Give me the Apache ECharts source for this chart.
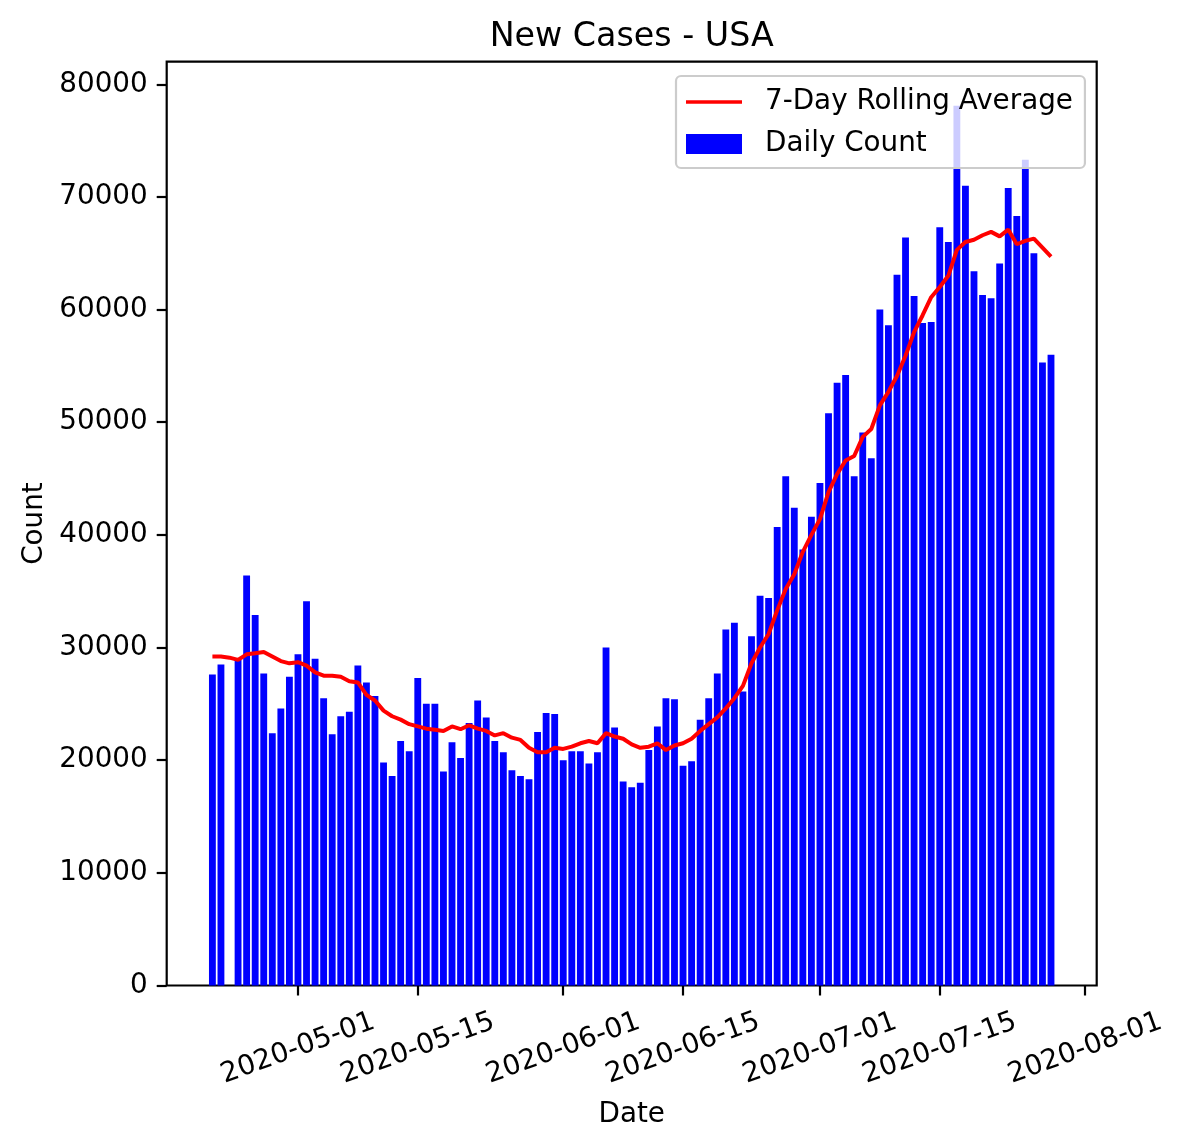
<!DOCTYPE html>
<html><head><meta charset="utf-8">
<script src="https://cdn.jsdelivr.net/npm/echarts@6/dist/echarts.min.js"></script>
<style>html,body{margin:0;padding:0;background:#fff}#c{width:1186px;height:1146px}</style>
</head><body><div id="c"></div>
<script>
const dates = [
'2020-04-21','2020-04-22','2020-04-23','2020-04-24','2020-04-25','2020-04-26','2020-04-27','2020-04-28','2020-04-29','2020-04-30',
'2020-05-01','2020-05-02','2020-05-03','2020-05-04','2020-05-05','2020-05-06','2020-05-07','2020-05-08','2020-05-09','2020-05-10',
'2020-05-11','2020-05-12','2020-05-13','2020-05-14','2020-05-15','2020-05-16','2020-05-17','2020-05-18','2020-05-19','2020-05-20',
'2020-05-21','2020-05-22','2020-05-23','2020-05-24','2020-05-25','2020-05-26','2020-05-27','2020-05-28','2020-05-29','2020-05-30','2020-05-31',
'2020-06-01','2020-06-02','2020-06-03','2020-06-04','2020-06-05','2020-06-06','2020-06-07','2020-06-08','2020-06-09','2020-06-10',
'2020-06-11','2020-06-12','2020-06-13','2020-06-14','2020-06-15','2020-06-16','2020-06-17','2020-06-18','2020-06-19','2020-06-20',
'2020-06-21','2020-06-22','2020-06-23','2020-06-24','2020-06-25','2020-06-26','2020-06-27','2020-06-28','2020-06-29','2020-06-30',
'2020-07-01','2020-07-02','2020-07-03','2020-07-04','2020-07-05','2020-07-06','2020-07-07','2020-07-08','2020-07-09','2020-07-10',
'2020-07-11','2020-07-12','2020-07-13','2020-07-14','2020-07-15','2020-07-16','2020-07-17','2020-07-18','2020-07-19','2020-07-20',
'2020-07-21','2020-07-22','2020-07-23','2020-07-24','2020-07-25','2020-07-26','2020-07-27','2020-07-28'
];
const dailyCount = [
27600,28500,null,28900,36400,32900,27700,22400,24600,27400,
29400,34100,29000,25500,22300,23900,24300,28400,26900,25700,
19800,18600,21700,20800,27300,25000,25000,19000,21600,20200,
23300,25300,23800,21700,20700,19100,18600,18300,22500,24200,24100,
20000,20800,20800,19700,20700,30000,22900,18100,17600,18000,
20900,23000,25500,25400,19500,19900,23600,25500,27700,31600,
32200,26100,31000,34600,34400,40700,45200,42400,38700,41600,
44600,50800,53500,54200,45200,49100,46800,60000,58600,63100,
66400,61200,58800,58900,67300,66000,78100,71000,63400,61300,
61000,64100,70800,68300,73300,65000,55300,56000
];
const rollingAvg = [
29200,29200,29100,28900,29400,29500,29600,29200,28800,28600,
28700,28400,27800,27500,27500,27400,27000,26900,25800,25300,
24400,23900,23600,23200,23000,22800,22700,22600,23000,22750,
23100,22800,22600,22200,22400,22000,21800,21100,20700,20700,21100,
21000,21200,21500,21700,21500,22400,22100,21900,21400,21100,
21200,21500,20900,21300,21500,21900,22600,23200,23800,24600,
25500,26600,28600,30000,31200,33300,35200,36500,38500,40000,
41400,43800,45400,46600,47000,48700,49400,51500,52700,54100,
55900,58000,59500,61100,62000,63000,65300,66000,66200,66600,
66900,66500,67100,65800,66100,66300,65500,64700
];
const xTickLabels = ['2020-05-01','2020-05-15','2020-06-01','2020-06-15','2020-07-01','2020-07-15','2020-08-01'];
const yTicks = [0,10000,20000,30000,40000,50000,60000,70000,80000];

const FONT = 'DejaVu Sans';
const DAY = 86400000;
const toTs = s => Date.parse(s + 'T00:00:00Z');
const first = toTs(dates[0]), last = toTs(dates[dates.length - 1]);
const span = (last - first) + 0.8 * DAY;
const xMin = first - 0.4 * DAY - 0.05 * span;
const xMax = last + 0.4 * DAY + 0.05 * span;
const yMax = Math.max(...dailyCount.filter(v => v != null)) * 1.05;

const gridLeft = 166.7, gridRight = 89.3, gridTop = 61.7, gridBottom = 160.5;
const plotW = 1186 - gridLeft - gridRight;
const barPx = 0.8 * DAY * plotW / (xMax - xMin);

function fmt(v) {
  const d = new Date(v);
  return d.getUTCFullYear() + '-' + String(d.getUTCMonth() + 1).padStart(2, '0') + '-' + String(d.getUTCDate()).padStart(2, '0');
}

const chart = echarts.init(document.getElementById('c'), null, {renderer: 'canvas'});
chart.setOption({
  animation: false,
  backgroundColor: '#ffffff',
  textStyle: {fontFamily: FONT},
  title: {
    text: 'New Cases - USA',
    left: gridLeft + plotW / 2 - 5,
    textAlign: 'center',
    top: 16,
    textStyle: {fontFamily: FONT, fontSize: 33.3, fontWeight: 'normal', color: '#000'}
  },
  legend: {
    orient: 'vertical',
    left: 676,
    top: 76,
    align: 'left',
    selectedMode: false,
    itemWidth: 56,
    itemHeight: 20,
    itemGap: 14,
    padding: [12, 12, 10, 10],
    backgroundColor: 'rgba(255,255,255,0.8)',
    borderColor: '#cccccc',
    borderWidth: 2.2,
    borderRadius: 5,
    textStyle: {fontFamily: FONT, fontSize: 27.8, color: '#000', lineHeight: 28, padding: [0, 0, 0, 18]},
    data: [
      {name: '7-Day Rolling Average', icon: 'path://M0,0 L60,0 L60,4 L0,4 Z', itemStyle: {color: '#ff0000'}},
      {name: 'Daily Count', icon: 'rect', itemStyle: {color: '#0000ff'}}
    ]
  },
  grid: {
    left: gridLeft, right: gridRight, top: gridTop, bottom: gridBottom,
    show: true, borderColor: '#000', borderWidth: 2.2, backgroundColor: 'transparent',
    containLabel: false, outerBoundsMode: 'none'
  },
  xAxis: {
    type: 'value',
    min: xMin, max: xMax,
    axisLine: {show: false},
    splitLine: {show: false},
    axisTick: {show: true, customValues: xTickLabels.map(toTs), length: 10, lineStyle: {color: '#000', width: 2.2}},
    axisLabel: {
      customValues: xTickLabels.map(toTs),
      formatter: fmt,
      rotate: 20, align: 'center', verticalAlign: 'middle', margin: 63,
      fontFamily: FONT, fontSize: 27.8, color: '#000', hideOverlap: false
    },
    name: 'Date', nameLocation: 'middle', nameGap: 115,
    nameTextStyle: {fontFamily: FONT, fontSize: 27.8, color: '#000'}
  },
  yAxis: {
    type: 'value',
    min: 0, max: yMax,
    axisLine: {show: false},
    splitLine: {show: false},
    axisTick: {show: true, customValues: yTicks, length: 10, lineStyle: {color: '#000', width: 2.2}},
    axisLabel: {customValues: yTicks, formatter: v => String(v), margin: 19, padding: [4, 0, 0, 0], fontFamily: FONT, fontSize: 27.8, color: '#000'},
    name: 'Count', nameLocation: 'middle', nameRotate: 90, nameGap: 109,
    nameTextStyle: {fontFamily: FONT, fontSize: 27.8, color: '#000'}
  },
  series: [
    {
      name: 'Daily Count',
      type: 'bar',
      barWidth: barPx,
      color: '#0000ff',
      itemStyle: {color: '#0000ff'},
      data: dates.map((d, i) => [toTs(d), dailyCount[i]])
    },
    {
      name: '7-Day Rolling Average',
      type: 'line',
      symbol: 'none',
      color: '#ff0000',
      lineStyle: {color: '#ff0000', width: 4},
      data: dates.map((d, i) => [toTs(d), rollingAvg[i]])
    }
  ]
});
</script>
</body></html>
